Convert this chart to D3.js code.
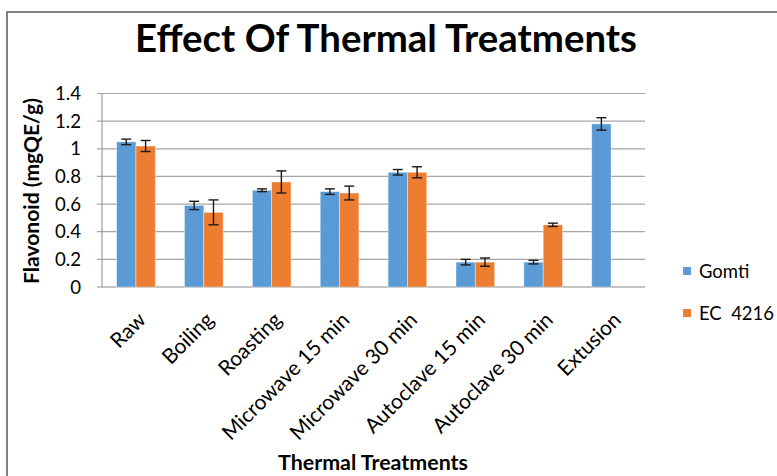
<!DOCTYPE html>
<html>
<head>
<meta charset="utf-8">
<script src="https://cdn.jsdelivr.net/npm/d3@7"></script>
<style>
  body { margin: 0; background: #fff; }
  text { font-family: Lato, "Open Sans", sans-serif; fill: #000; }
</style>
</head>
<body>
<svg id="chart" width="777" height="476"></svg>
<script>
var categories = ['Raw', 'Boiling', 'Roasting', 'Microwave 15 min', 'Microwave 30 min', 'Autoclave 15 min', 'Autoclave 30 min', 'Extusion']
var series = ['Gomti', 'EC  4216']
var gomti = [1.05, 0.59, 0.70, 0.69, 0.83, 0.18, 0.18, 1.18]
var gomtiErr = [0.02, 0.03, 0.01, 0.02, 0.02, 0.02, 0.013, 0.045]
var ec = [1.02, 0.54, 0.76, 0.68, 0.83, 0.18, 0.45, null]
var ecErr = [0.04, 0.09, 0.08, 0.05, 0.04, 0.03, 0.012, null]
var yTicks = [0, 0.2, 0.4, 0.6, 0.8, 1, 1.2, 1.4]
var colors = ['#5B9BD5', '#ED7D31']

var svg = d3.select('#chart')
var width = +svg.attr('width')
var height = +svg.attr('height')
var plot = {left: 102, right: 645, top: 93.5, bottom: 287}

// scale font size so the text takes the width it has in the picture
function fit(sel, target) {
    var fs = parseFloat(sel.attr('font-size'))
    var w = sel.node().getComputedTextLength()
    var k = target / w
    sel.attr('font-size', fs * k)
    return k
}

// outer chart border (only top and left visible in the crop)
svg.append('path')
    .attr('d', 'M7,' + height + 'V12H' + width)
    .attr('fill', 'none')
    .attr('stroke', '#595959')
    .attr('stroke-width', 1.5)

var x0 = d3.scaleBand().domain(categories).range([plot.left, plot.right])
var groupW = x0.bandwidth() * 0.57
var x1 = d3.scaleBand().domain(series).range([0, groupW])
var y = d3.scaleLinear().domain([0, 1.4]).range([plot.bottom, plot.top])

// gridlines
svg.append('g')
    .selectAll('line')
    .data(yTicks)
    .enter()
    .append('line')
    .attr('x1', plot.left - 5)
    .attr('x2', plot.right)
    .attr('y1', d => y(d))
    .attr('y2', d => y(d))
    .attr('stroke', d => d == 0 ? '#8a8a8a' : '#a6a6a6')
    .attr('stroke-width', 1.2)
svg.append('line')
    .attr('x1', plot.left).attr('x2', plot.left)
    .attr('y1', y(1.4)).attr('y2', y(0))
    .attr('stroke', '#8a8a8a')

// y tick labels
var yl = svg.append('g')
    .selectAll('text')
    .data(yTicks)
    .enter()
    .append('text')
    .attr('x', 81)
    .attr('y', d => y(d))
    .attr('dy', '0.36em')
    .attr('text-anchor', 'end')
    .attr('font-size', 17)
    .attr('fill', '#262626')
    .text(d => d3.format('~g')(d))
var k = fit(yl.filter(d => d == 0.8), 26)
yl.attr('font-size', 17 * k)

var rows = []
categories.forEach(function (c, i) {
    rows.push({cat: c, s: series[0], v: gomti[i], e: gomtiErr[i], k: 0})
    if (ec[i] != null) rows.push({cat: c, s: series[1], v: ec[i], e: ecErr[i], k: 1})
})
function bx(d) {
    return x0(d.cat) + (x0.bandwidth() - groupW) / 2 + x1(d.s)
}

svg.append('g')
    .selectAll('rect')
    .data(rows)
    .enter()
    .append('rect')
    .attr('x', bx)
    .attr('y', d => y(d.v))
    .attr('width', x1.bandwidth())
    .attr('height', d => y(0) - y(d.v))
    .attr('fill', d => colors[d.k])
    .attr('stroke', '#fff')
    .attr('stroke-opacity', 0.5)
    .attr('stroke-width', 0.8)

// error bars
var eb = svg.append('g').attr('stroke', '#1a1a1a').attr('stroke-width', 1.4)
rows.forEach(function (d) {
    var cx = bx(d) + x1.bandwidth() / 2
    eb.append('line').attr('x1', cx).attr('x2', cx).attr('y1', y(d.v + d.e)).attr('y2', y(d.v - d.e))
    eb.append('line').attr('x1', cx - 5).attr('x2', cx + 5).attr('y1', y(d.v + d.e)).attr('y2', y(d.v + d.e))
    eb.append('line').attr('x1', cx - 5).attr('x2', cx + 5).attr('y1', y(d.v - d.e)).attr('y2', y(d.v - d.e))
})

// category labels
var xl = svg.append('g')
    .selectAll('text')
    .data(categories)
    .enter()
    .append('text')
    .attr('transform', d => 'translate(' + (x0(d) + x0.bandwidth() / 2 + 6) + ',316) rotate(-45)')
    .attr('text-anchor', 'end')
    .attr('dy', '0.35em')
    .attr('font-size', 16)
    .attr('fill', '#262626')
    .text(d => d)
k = fit(xl.filter(d => d == 'Microwave 15 min'), 170)
xl.attr('font-size', 16 * k)

// titles
var t = svg.append('text')
    .attr('x', 386).attr('y', 52)
    .attr('text-anchor', 'middle')
    .attr('font-size', 36)
    .attr('font-weight', 'bold')
    .text('Effect Of Thermal Treatments')
fit(t, 502)
t = svg.append('text')
    .attr('transform', 'translate(39,191) rotate(-90)')
    .attr('text-anchor', 'middle')
    .attr('font-size', 16)
    .attr('font-weight', 'bold')
    .text('Flavonoid (mgQE/g)')
fit(t, 186)
t = svg.append('text')
    .attr('x', 373).attr('y', 470)
    .attr('text-anchor', 'middle')
    .attr('font-size', 16)
    .attr('font-weight', 'bold')
    .text('Thermal Treatments')
fit(t, 190)

// legend
var lg = svg.append('g')
    .selectAll('g')
    .data(series)
    .enter()
    .append('g')
    .attr('transform', (d, i) => 'translate(683,' + (271 + i * 42) + ')')
lg.append('rect')
    .attr('x', 0).attr('y', -4)
    .attr('width', 8).attr('height', 8)
    .attr('fill', (d, i) => colors[i])
var lt = lg.append('text')
    .attr('x', 16)
    .attr('dy', '0.36em')
    .attr('font-size', 17)
    .style('white-space', 'pre')
    .text(d => d)
// keep the second entry inside the window
k = fit(lt.filter((d, i) => i == 1), 75)
lt.attr('font-size', 17 * k)
</script>
</body>
</html>
